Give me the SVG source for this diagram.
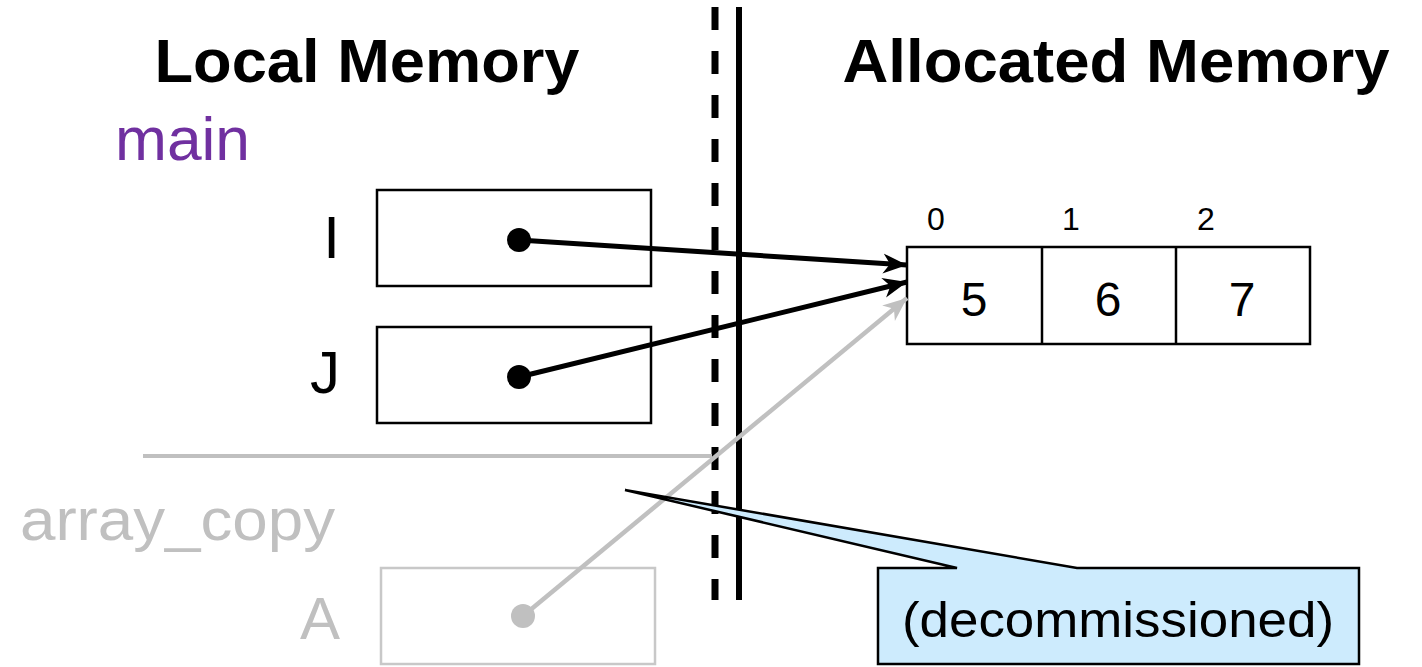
<svg xmlns="http://www.w3.org/2000/svg" width="1422" height="667" viewBox="0 0 1422 667">
<style>
text{font-family:"Liberation Sans",Arial,sans-serif}
.h{font-size:61px;font-weight:bold;fill:#000}
.lbl{font-size:60px;fill:#000}
.gray{fill:#c0c0c0}
.box{fill:#fff;stroke:#000;stroke-width:2.5}
.gbox{fill:#fff;stroke:#c8c8c8;stroke-width:2.5}
.num{font-size:48px;text-anchor:middle}
.idx{font-size:32px;text-anchor:middle}
</style>
<defs>
<marker id="ah" markerUnits="userSpaceOnUse" markerWidth="26" markerHeight="22" viewBox="0 0 26 22" refX="24" refY="11" orient="auto">
<path d="M0,1 L24,11 L0,21 L7,11 z" fill="#000"/>
</marker>
<marker id="ahg" markerUnits="userSpaceOnUse" markerWidth="26" markerHeight="22" viewBox="0 0 26 22" refX="24" refY="11" orient="auto">
<path d="M0,1 L24,11 L0,21 L7,11 z" fill="#c0c0c0"/>
</marker>
</defs>

<g id="headers">
<text class="h" x="367" y="82" text-anchor="middle" textLength="425" lengthAdjust="spacingAndGlyphs">Local Memory</text>
<text class="h" x="1116" y="82" text-anchor="middle" textLength="547" lengthAdjust="spacingAndGlyphs">Allocated Memory</text>
</g>

<g id="divider">
<line x1="715" y1="7" x2="715" y2="600" stroke="#000" stroke-width="7" stroke-dasharray="23 21"/>
<line x1="739" y1="7" x2="739" y2="600" stroke="#000" stroke-width="6"/>
</g>

<g id="frame-main">
<text x="115" y="160" font-size="62" fill="#7030a0" textLength="135" lengthAdjust="spacingAndGlyphs">main</text>
</g>

<g id="var-I">
<text class="lbl" x="340" y="258" text-anchor="end">I</text>
<rect class="box" x="377" y="190" width="274" height="96"/>
</g>

<g id="var-J">
<text class="lbl" x="340" y="393" text-anchor="end">J</text>
<rect class="box" x="377" y="327" width="274" height="96"/>
</g>

<g id="frame-sep">
<line x1="143" y1="456" x2="712" y2="456" stroke="#c0c0c0" stroke-width="4"/>
</g>

<g id="frame-array_copy">
<text class="lbl gray" x="20" y="540" textLength="315" lengthAdjust="spacingAndGlyphs">array_copy</text>
</g>

<g id="var-A">
<text class="lbl gray" x="340" y="639" text-anchor="end">A</text>
<rect class="gbox" x="381" y="568" width="274" height="96"/>
</g>

<g id="array">
<rect class="box" x="907" y="247" width="403" height="97"/>
<line x1="1042" y1="247" x2="1042" y2="344" stroke="#000" stroke-width="2.5"/>
<line x1="1176" y1="247" x2="1176" y2="344" stroke="#000" stroke-width="2.5"/>
<text class="idx" x="936" y="230">0</text>
<text class="idx" x="1071" y="230">1</text>
<text class="idx" x="1206" y="230">2</text>
<text class="num" x="974" y="316">5</text>
<text class="num" x="1108" y="316">6</text>
<text class="num" x="1242" y="316">7</text>
</g>

<g id="connectors">
<line x1="519" y1="240" x2="907" y2="265" stroke="#000" stroke-width="5" marker-end="url(#ah)"/>
<line x1="519" y1="377" x2="907" y2="282" stroke="#000" stroke-width="5" marker-end="url(#ah)"/>
<line x1="523" y1="616" x2="907" y2="298" stroke="#c0c0c0" stroke-width="4.5" marker-end="url(#ahg)"/>
<circle cx="519" cy="240" r="12" fill="#000"/>
<circle cx="519" cy="377" r="12" fill="#000"/>
<circle cx="523" cy="616" r="12" fill="#c0c0c0"/>
</g>

<g id="callout">
<path d="M878,568 L957,568 L625,490 L1077,568 L1359,568 L1359,664 L878,664 Z" fill="#cdebfd" stroke="#000" stroke-width="2.5" stroke-linejoin="miter"/>
<text x="1118" y="637" font-size="50" text-anchor="middle" textLength="432" lengthAdjust="spacingAndGlyphs">(decommissioned)</text>
</g>
</svg>
